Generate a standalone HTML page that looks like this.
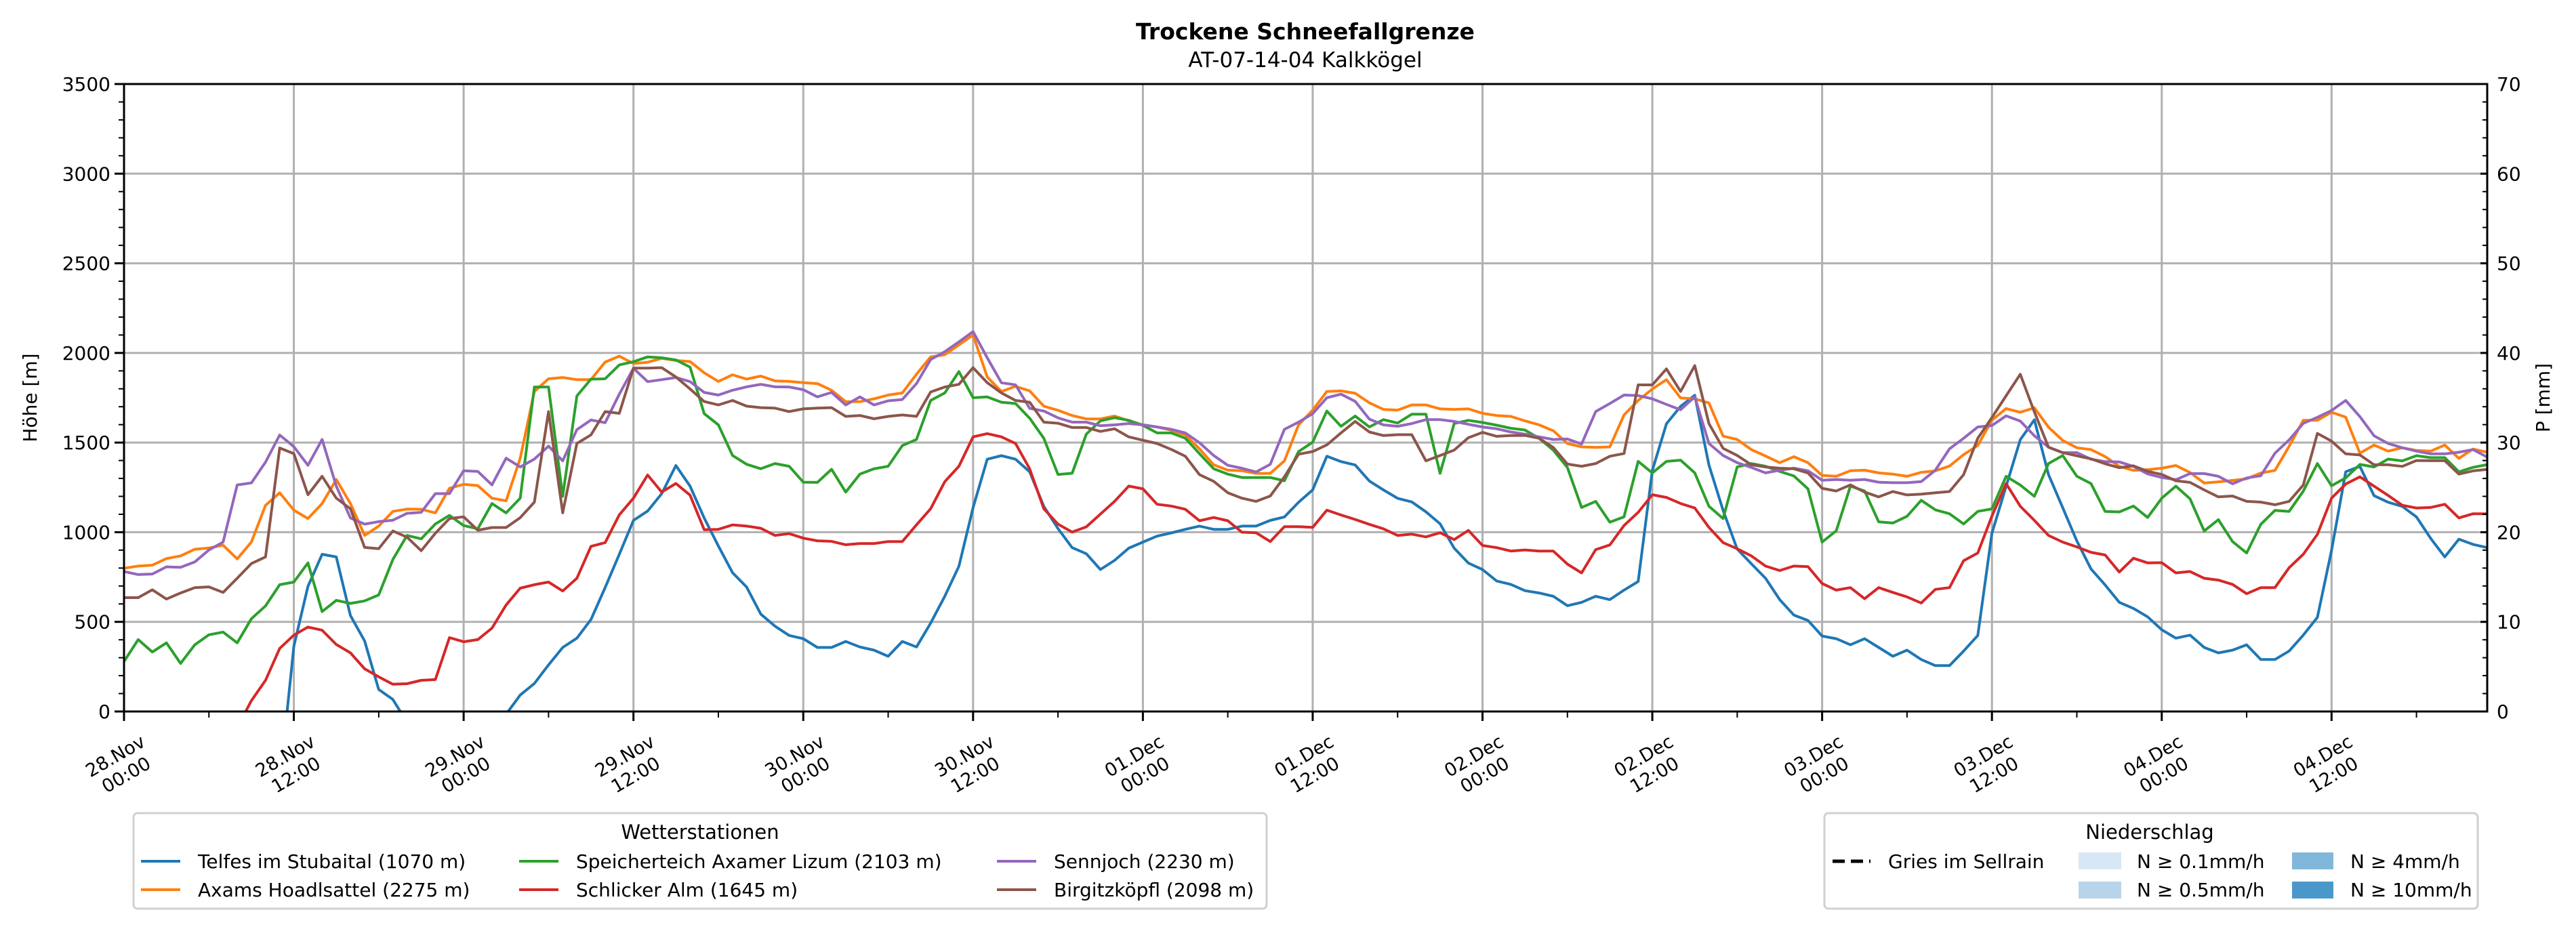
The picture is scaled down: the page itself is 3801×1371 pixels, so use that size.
<!DOCTYPE html>
<html><head><meta charset="utf-8"><title>Trockene Schneefallgrenze</title>
<style>
html,body{margin:0;padding:0;background:#fff;}
svg{display:block;font-family:"DejaVu Sans","Liberation Sans",sans-serif;}
</style></head>
<body>
<svg id="chart" xmlns="http://www.w3.org/2000/svg" width="3801" height="1371" viewBox="0 0 3801 1371">
<defs><clipPath id="plotclip"><rect x="183" y="124" width="3487" height="926"/></clipPath></defs>
<rect x="0" y="0" width="3801" height="1371" fill="#fff"/>
<text x="1926" y="58" text-anchor="middle" font-size="33" font-weight="bold">Trockene Schneefallgrenze</text>
<text x="1926" y="99" text-anchor="middle" font-size="31">AT-07-14-04 Kalkkögel</text>
<g id="grid"></g>
<g id="series" clip-path="url(#plotclip)"></g>
<rect x="183" y="124" width="3487" height="926" fill="none" stroke="#000" stroke-width="3"/>
<g id="axes"></g>
<text transform="translate(54,587) rotate(-90)" text-anchor="middle" font-size="28">Höhe [m]</text>
<text transform="translate(3762,587) rotate(-90)" text-anchor="middle" font-size="28">P [mm]</text>

<g>
<rect x="197" y="1200" width="1672" height="141" rx="6" fill="#fff" stroke="#d0d0d0" stroke-width="3"/>
<text x="1033" y="1238" text-anchor="middle" font-size="29">Wetterstationen</text>
<g id="stlegend"></g>
</g>

<g>
<rect x="2692" y="1200" width="964" height="141" rx="6" fill="#fff" stroke="#d0d0d0" stroke-width="3"/>
<text x="3172" y="1238" text-anchor="middle" font-size="29">Niederschlag</text>
<line x1="2704" y1="1271" x2="2760" y2="1271" stroke="#000" stroke-width="5" stroke-dasharray="18,9"/>
<text x="2786" y="1281" font-size="28">Gries im Sellrain</text>
<rect x="3067" y="1258" width="63" height="25" fill="#d8e7f5"/>
<text x="3153" y="1281" font-size="28">N ≥ 0.1mm/h</text>
<rect x="3067" y="1301" width="63" height="25" fill="#b8d4ea"/>
<text x="3153" y="1323" font-size="28">N ≥ 0.5mm/h</text>
<rect x="3382" y="1258" width="61" height="25" fill="#80b7db"/>
<text x="3468" y="1281" font-size="28">N ≥ 4mm/h</text>
<rect x="3382" y="1301" width="61" height="25" fill="#4a98c9"/>
<text x="3468" y="1323" font-size="28">N ≥ 10mm/h</text>
</g>
</svg>
<script>
// ---- data ----
const stationNames = ["Telfes im Stubaital (1070 m)","Axams Hoadlsattel (2275 m)","Speicherteich Axamer Lizum (2103 m)","Schlicker Alm (1645 m)","Sennjoch (2230 m)","Birgitzköpfl (2098 m)"];
const dateTickLabels = ["28.Nov\n00:00","28.Nov\n12:00","29.Nov\n00:00","29.Nov\n12:00","30.Nov\n00:00","30.Nov\n12:00","01.Dec\n00:00","01.Dec\n12:00","02.Dec\n00:00","02.Dec\n12:00","03.Dec\n00:00","03.Dec\n12:00","04.Dec\n00:00","04.Dec\n12:00"];
const heightTicks = [0,500,1000,1500,2000,2500,3000,3500];
const precipTicks = [0,10,20,30,40,50,60,70];
const telfes = [
-600,-600,-600,-600,-600,-600,-600,-600,-600,-600,-600,-400,
364,698,877,862,535,394,123,67,-60,-150,-250,-300,
-300,-250,-150,-15,92,156,260,357,409,513,691,877,
1066,1118,1215,1372,1257,1079,923,774,694,543,476,424,
406,357,357,391,360,342,308,391,360,493,643,810,
1137,1407,1427,1407,1337,1144,1020,914,880,792,843,911,
945,978,996,1016,1034,1016,1016,1034,1034,1066,1085,1167,
1236,1424,1394,1375,1286,1236,1189,1169,1114,1047,911,828,
792,728,709,674,661,643,590,609,643,624,677,725,
1345,1605,1702,1764,1375,1122,906,824,743,624,538,508,
421,406,372,406,357,308,342,290,256,256,337,424,
995,1256,1516,1627,1321,1137,951,795,706,609,575,528,
456,409,426,357,327,342,372,290,290,337,426,525,
899,1337,1367,1204,1167,1144,1085,966,862,961,932,914];
const axams = [
799,811,816,853,868,905,912,927,851,945,1150,1220,
1123,1076,1160,1294,1160,982,1034,1116,1129,1128,1108,1245,
1267,1260,1190,1175,1413,1785,1856,1863,1851,1851,1949,1982,
1941,1948,1970,1958,1952,1889,1841,1878,1854,1871,1844,1841,
1834,1829,1792,1728,1728,1744,1765,1777,1881,1978,1990,2045,
2100,1866,1785,1814,1788,1703,1680,1651,1632,1632,1648,1621,
1599,1587,1569,1542,1465,1376,1346,1343,1328,1328,1398,1599,
1681,1785,1788,1775,1722,1685,1681,1710,1710,1688,1685,1688,
1663,1651,1646,1621,1599,1566,1495,1476,1473,1476,1654,1735,
1799,1851,1749,1744,1721,1536,1517,1461,1425,1388,1421,1388,
1317,1312,1343,1346,1331,1324,1312,1334,1342,1369,1433,1484,
1625,1690,1669,1694,1586,1512,1471,1461,1422,1367,1345,1349,
1357,1372,1333,1274,1281,1289,1298,1330,1345,1479,1624,1624,
1669,1642,1441,1486,1452,1471,1456,1452,1486,1412,1464,1446];
const speicherteich = [
279,401,332,383,268,372,428,443,383,517,589,707,
722,829,557,620,603,617,650,848,982,963,1046,1094,
1037,1019,1160,1108,1190,1810,1810,1200,1760,1854,1856,1933,
1951,1978,1973,1961,1921,1661,1599,1428,1379,1354,1383,1368,
1279,1278,1351,1224,1324,1354,1368,1483,1517,1735,1777,1896,
1750,1755,1725,1718,1636,1524,1322,1329,1547,1621,1639,1624,
1596,1554,1554,1524,1438,1354,1324,1305,1305,1305,1287,1450,
1502,1676,1591,1648,1587,1628,1609,1658,1658,1328,1606,1624,
1612,1597,1580,1570,1524,1458,1361,1138,1172,1056,1086,1395,
1331,1395,1402,1331,1145,1076,1364,1383,1368,1339,1314,1242,
945,1008,1257,1230,1058,1051,1089,1178,1125,1103,1046,1116,
1130,1312,1263,1200,1383,1428,1312,1271,1116,1113,1146,1082,
1190,1257,1186,1007,1070,948,884,1044,1122,1116,1229,1383,
1259,1303,1378,1364,1408,1398,1427,1416,1416,1337,1362,1377];
const schlicker = [
-300,-300,-300,-300,-300,-300,-250,-150,-90,60,174,352,
426,471,453,374,327,238,193,152,155,174,178,412,
389,401,465,594,688,707,722,672,743,921,942,1097,
1190,1319,1224,1272,1207,1014,1016,1041,1034,1022,982,992,
967,952,949,930,937,937,948,948,1041,1131,1282,1368,
1532,1550,1532,1495,1354,1131,1045,1001,1030,1101,1172,1257,
1242,1156,1146,1128,1064,1082,1064,1000,997,948,1031,1031,
1027,1123,1096,1071,1044,1019,982,989,974,997,959,1010,
926,914,895,901,895,895,822,773,903,929,1037,1111,
1209,1194,1160,1135,1027,942,908,868,811,786,811,808,
714,677,691,629,691,664,639,605,681,691,841,884,
1090,1271,1145,1066,982,945,918,888,873,778,855,829,
830,773,781,743,733,709,657,691,691,802,877,988,
1190,1269,1309,1257,1205,1150,1135,1138,1156,1080,1103,1103];
const sennjoch = [
781,764,767,807,804,834,901,945,1264,1275,1391,1542,
1477,1373,1517,1257,1079,1045,1059,1067,1105,1111,1215,1215,
1343,1339,1264,1413,1364,1408,1480,1398,1572,1626,1611,1770,
1914,1840,1851,1863,1840,1780,1765,1792,1811,1825,1811,1810,
1795,1755,1780,1710,1755,1710,1733,1740,1829,1963,2007,2062,
2119,1973,1834,1822,1691,1676,1638,1614,1614,1594,1599,1606,
1599,1587,1574,1554,1499,1428,1373,1357,1336,1379,1574,1614,
1661,1750,1770,1730,1631,1599,1591,1606,1628,1628,1618,1602,
1587,1577,1559,1547,1532,1517,1520,1492,1673,1718,1765,1762,
1744,1713,1683,1755,1495,1428,1388,1361,1331,1346,1357,1343,
1290,1294,1290,1294,1279,1276,1276,1282,1346,1465,1524,1587,
1595,1649,1620,1538,1474,1444,1444,1407,1394,1392,1367,1325,
1305,1293,1327,1327,1312,1270,1303,1315,1441,1515,1607,1641,
1679,1735,1645,1538,1495,1471,1452,1437,1437,1446,1461,1419];
const birgitzkoepfl = [
635,635,679,627,661,691,695,664,743,825,862,1470,
1438,1209,1312,1190,1131,915,908,1007,972,897,994,1076,
1086,1011,1026,1026,1081,1168,1673,1108,1495,1543,1673,1663,
1915,1915,1918,1866,1799,1729,1710,1735,1703,1695,1692,1673,
1688,1692,1695,1646,1651,1633,1646,1654,1646,1782,1810,1825,
1918,1834,1777,1735,1725,1614,1608,1584,1584,1562,1577,1532,
1513,1495,1462,1424,1321,1284,1220,1190,1172,1202,1309,1435,
1450,1487,1554,1618,1559,1539,1544,1544,1398,1428,1458,1527,
1557,1535,1539,1540,1524,1473,1380,1368,1383,1424,1439,1822,
1822,1911,1785,1929,1606,1468,1428,1376,1364,1357,1354,1331,
1245,1230,1264,1224,1197,1227,1208,1212,1220,1227,1321,1524,
1640,1761,1881,1671,1474,1444,1426,1409,1382,1360,1370,1340,
1322,1287,1278,1236,1197,1202,1172,1168,1153,1172,1263,1551,
1508,1437,1431,1376,1376,1367,1400,1399,1399,1324,1342,1350];

// ---- layout ----
const NS = "http://www.w3.org/2000/svg";
const L = 183, R = 3670, T = 124, B = 1050;
const HMAX = 167, VMAX = 3500, PMAX = 70;
const xScale = h => L + h * (R - L) / HMAX;
const yScale = v => B - v * (B - T) / VMAX;
const pScale = p => B - p * (B - T) / PMAX;
const colors = ["#1f77b4","#ff7f0e","#2ca02c","#d62728","#9467bd","#8c564b"];
const seriesList = [telfes, axams, speicherteich, schlicker, sennjoch, birgitzkoepfl];
const seriesKeys = ["telfes","axams","speicherteich","schlicker","sennjoch","birgitzkoepfl"];

function mk(tag, attrs, parent) {
  const e = document.createElementNS(NS, tag);
  for (const k in attrs) e.setAttribute(k, attrs[k]);
  parent.appendChild(e);
  return e;
}
const grid = document.getElementById("grid");
const axes = document.getElementById("axes");
const seriesG = document.getElementById("series");

heightTicks.forEach(v => {
  const y = yScale(v);
  const g = mk("line", {x1:L, x2:R, y1:y, y2:y, stroke:"#b0b0b0", "stroke-width":3}, grid);
  
  
  const t = mk("line", {x1:L-14, x2:L, y1:y, y2:y, stroke:"#000", "stroke-width":3}, axes);
  
  
  const lb = mk("text", {x:L-20, y:y+10, "text-anchor":"end", "font-size":28}, axes);
  lb.textContent = v;
  
  
});
for (let v = 0; v <= VMAX; v += 100) {
  if (v % 500 === 0) continue;
  const y = yScale(v);
  const t = mk("line", {x1:L-8, x2:L, y1:y, y2:y, stroke:"#000", "stroke-width":2}, axes);
  
  
}
precipTicks.forEach(p => {
  const y = pScale(p);
  const t = mk("line", {x1:R-10, x2:R, y1:y, y2:y, stroke:"#000", "stroke-width":3}, axes);
  
  
  const lb = mk("text", {x:R+14, y:y+10, "text-anchor":"start", "font-size":28}, axes);
  lb.textContent = p;
  
  
});
for (let p = 0; p <= PMAX; p += 2) {
  if (p % 10 === 0) continue;
  const y = pScale(p);
  const t = mk("line", {x1:R-7, x2:R, y1:y, y2:y, stroke:"#000", "stroke-width":2}, axes);
  
  
}
dateTickLabels.forEach((lab, i) => {
  const x = xScale(i * 12);
  const g = mk("line", {x1:x, x2:x, y1:T, y2:B, stroke:"#b0b0b0", "stroke-width":3}, grid);
  
  
  const t = mk("line", {x1:x, x2:x, y1:B, y2:B+14, stroke:"#000", "stroke-width":3}, axes);
  
  
  const parts = lab.split("\n");
  const grp = mk("g", {transform:`translate(${x},${B+76}) rotate(-30)`}, axes);
  
  
  const t1 = mk("text", {x:-6, y:-6, "text-anchor":"middle", "font-size":27}, grp);
  t1.textContent = parts[0];
  const t2 = mk("text", {x:-6, y:26, "text-anchor":"middle", "font-size":27}, grp);
  t2.textContent = parts[1];
});
for (let h = 6; h <= HMAX; h += 12) {
  const x = xScale(h);
  const t = mk("line", {x1:x, x2:x, y1:B, y2:B+9, stroke:"#000", "stroke-width":2}, axes);
  
  
}
seriesList.forEach((arr, si) => {
  const pts = arr.map((v, h) => xScale(h).toFixed(1) + "," + yScale(v).toFixed(1)).join(" ");
  const pl = mk("polyline", {points:pts, fill:"none", stroke:colors[si], "stroke-width":4, "stroke-linejoin":"round"}, seriesG);
  
  
});
const stl = document.getElementById("stlegend");
const colX = [208, 766, 1471];
stationNames.forEach((name, i) => {
  const col = Math.floor(i / 2), row = i % 2;
  const x = colX[col], y = 1271 + row * 42;
  const ln = mk("line", {x1:x, x2:x+58, y1:y, y2:y, stroke:colors[i], "stroke-width":4}, stl);
  
  
  const tx = mk("text", {x:x+84, y:y+10, "font-size":28}, stl);
  tx.textContent = name;
  
  
});
</script>
</body></html>
